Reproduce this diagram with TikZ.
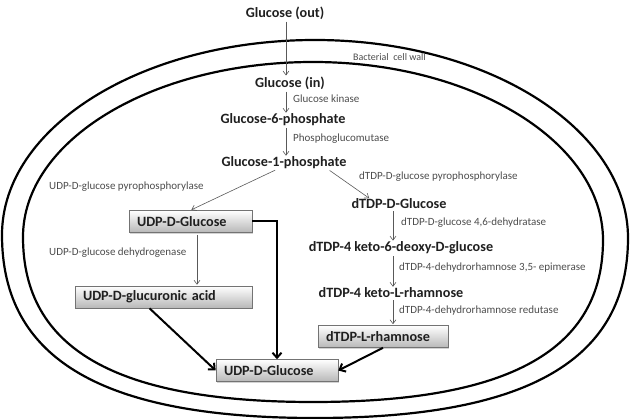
\documentclass[tikz,border=0pt]{standalone}
\usepackage{fontspec}
\setmainfont{Carlito}
\usetikzlibrary{arrows.meta,shadows,calc}
\begin{document}
\begin{tikzpicture}[x=1pt,y=-1pt,
  met/.style={font=\bfseries\fontsize{14.2}{16}\selectfont, text=black!88, inner sep=0pt},
  enz/.style={font=\fontsize{11}{13}\selectfont, text=black!70, inner sep=0pt, anchor=west},
  box/.style={met, draw=black!55, line width=0.6pt, top color=white, bottom color=black!28,
    minimum height=22pt, inner xsep=8pt, align=left,
    drop shadow={shadow xshift=1.3pt, shadow yshift=-1.3pt, opacity=0.35}},
  thinarrow/.style={draw=black!65, line width=0.6pt, shorten <=2pt, shorten >=1pt,
    -{Straight Barb[length=4pt,width=6pt]}},
  thickarrow/.style={draw=black, line width=2pt, -{Straight Barb[length=5pt,width=9pt,line width=2pt]}},
  wall/.style={draw=black, line width=2.2pt}]
\useasboundingbox (0,0) rectangle (630,419);
% cell wall
\draw[wall] (2,235) .. controls (2,127) and (142,40) .. (315,40)
  .. controls (488,40) and (628,129) .. (628,238)
  .. controls (628,360) and (528,418) .. (315,418)
  .. controls (102,418) and (2,359) .. (2,235) -- cycle;
\draw[wall] (23,237) .. controls (23,140) and (153,62) .. (313,62)
  .. controls (473,62) and (603,142) .. (603,240)
  .. controls (603,350) and (510,402) .. (313,402)
  .. controls (116,402) and (23,349) .. (23,237) -- cycle;
\node[enz, font=\fontsize{10}{11}\selectfont] (wall) at (353,57) {Bacterial\ \ cell wall};
% metabolites
\node[met] (gout) at (285,13) {Glucose (out)};
\node[met] (gin) at (290,83) {Glucose (in)};
\node[met] (g6p) at (283,120) {Glucose-6-phosphate};
\node[met] (g1p) at (284,163) {Glucose-1-phosphate};
\node[box, text width=107pt] (udp1) at (190.5,221.5) {UDP-D-Glucose};
\node[box, text width=161pt] (gluc) at (163.5,297) {UDP-D-glucuronic acid};
\node[box, text width=106pt] (udp2) at (277,370.5) {UDP-D-Glucose};
\node[met] (dtdpg) at (399,204) {dTDP-D-Glucose};
\node[met] (keto6) at (401,248) {dTDP-4 keto-6-deoxy-D-glucose};
\node[met] (ketoL) at (391,293) {dTDP-4 keto-L-rhamnose};
\node[box, text width=114pt] (rham) at (383,336.5) {dTDP-L-rhamnose};
% enzymes
\node[enz] (e1) at (293,99) {Glucose kinase};
\node[enz] (e2) at (293,139) {Phosphoglucomutase};
\node[enz] (e3) at (49,187) {UDP-D-glucose pyrophosphorylase};
\node[enz] (e4) at (49,253) {UDP-D-glucose dehydrogenase};
\node[enz] (e5) at (359,177) {dTDP-D-glucose pyrophosphorylase};
\node[enz] (e6) at (401,223) {dTDP-D-glucose 4,6-dehydratase};
\node[enz] (e7) at (399,268) {dTDP-4-dehydrorhamnose 3,5- epimerase};
\node[enz] (e8) at (399,311) {dTDP-4-dehydrorhamnose redutase};
% helper coordinates
\coordinate (ax) at (286,0);
\coordinate (bx) at (197,0);
\coordinate (rx) at (393,0);
% thin arrows
\draw[thinarrow] (gout.south -| ax) -- (gin.north -| ax);
\draw[thinarrow] (gin.south -| ax) -- (g6p.north -| ax);
\draw[thinarrow] (g6p.south -| ax) -- (g1p.north -| ax);
\draw[thinarrow] ($(g1p.south)+(-7,0)$) -- (udp1.north);
\draw[thinarrow] ($(g1p.south)+(44,0)$) -- ($(dtdpg.north)+(-29,0)$);
\draw[thinarrow] (udp1.south -| bx) -- (gluc.north -| bx);
\draw[thinarrow] (dtdpg.south -| rx) -- (keto6.north -| rx);
\draw[thinarrow] (keto6.south -| rx) -- (ketoL.north -| rx);
\draw[thinarrow] (ketoL.south -| rx) -- (rham.north -| rx);
% thick arrows
\draw[thickarrow] (udp1.east) -| (udp2.north);
\draw[thickarrow] ($(gluc.south)+(-14,0)$) -- (udp2.west);
\draw[thickarrow] (rham.south) -- (udp2.east);
\end{tikzpicture}
\end{document}
